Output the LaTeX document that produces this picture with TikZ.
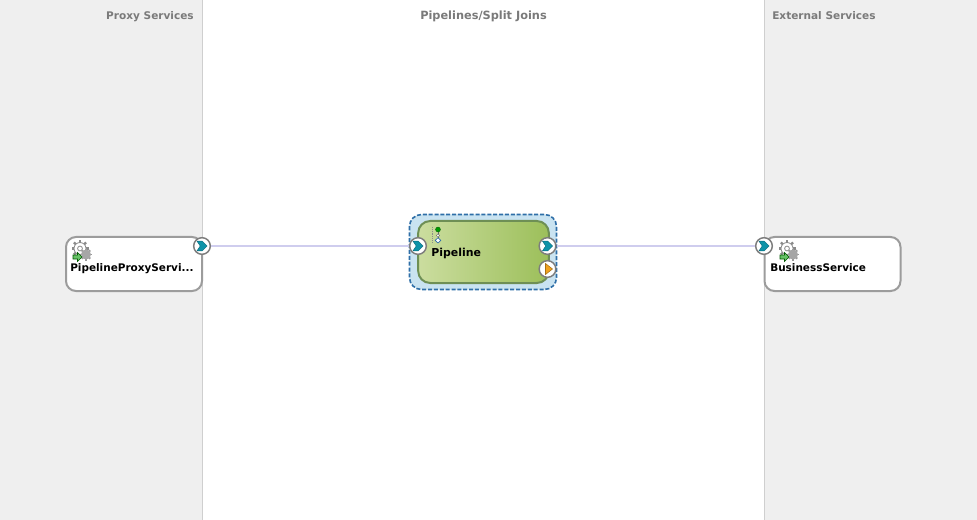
\documentclass[tikz,border=0pt]{standalone}
\usepackage{fontspec}
\setmainfont{DejaVu Sans}
\definecolor{panelgray}{HTML}{EFEFEF}
\definecolor{dividergray}{HTML}{CFCFCF}
\definecolor{titlegray}{HTML}{7A7A7A}
\definecolor{boxgray}{HTML}{9C9C9C}
\definecolor{wirelilac}{HTML}{CFCDEE}
\definecolor{portteal}{HTML}{0E93A8}
\definecolor{portdark}{HTML}{0A6A7C}
\definecolor{selblue}{HTML}{C9E3F1}
\definecolor{seldash}{HTML}{2F6FA8}
\definecolor{pipeedge}{HTML}{6E8F55}
\definecolor{pipeL}{HTML}{CBDD9F}
\definecolor{pipeR}{HTML}{9CBF5A}
\definecolor{orangeport}{HTML}{F0A11E}
\definecolor{geargray}{HTML}{8A8A8A}
\tikzset{
  x=0.75pt,y=-0.75pt,
  paneltitle/.style={font=\fontsize{7.9pt}{10pt}\selectfont\bfseries,text=titlegray,inner sep=0pt,anchor=base},
  svcbox/.style={draw=boxgray,line width=1.5pt,fill=white,rounded corners=7.5pt,minimum width=102pt,minimum height=40.5pt,inner sep=0pt},
  svclabel/.style={font=\fontsize{7.85pt}{10pt}\selectfont\bfseries,text=black,inner sep=0pt,anchor=base west},
  portc/.style={circle,draw=boxgray!80!black,line width=1.1pt,fill=white,minimum size=12.5pt,inner sep=0pt},
  wire/.style={draw=wirelilac,line width=1.4pt},
  pics/chev/.style={code={
    \fill[portteal,draw=portdark,line width=.3pt] (-5,-4.8) -- (0.3,-4.8) -- (5.2,0) -- (0.3,4.8) -- (-5,4.8) -- (-1.8,0) -- cycle;
  }},
  pics/gears/.style={code={
    \foreach \a in {0,45,...,315}{
      \draw[geargray,line width=1.7pt,rotate around={\a:(-1,-3)}] (-1,-8) -- (-1,-11.5);
    }
    \draw[geargray,fill=white,line width=.6pt] (-1,-3) circle[radius=6];
    \fill[white] (-1,-3) circle[radius=4.4];
    \draw[geargray,fill=white,line width=.6pt] (-1,-3) circle[radius=2.4];
    \foreach \a in {0,45,...,315}{
      \draw[black!40,line width=1.4pt,rotate around={\a:(5,3)}] (5,-1) -- (5,-3);
    }
    \fill[black!35] (5,3) circle[radius=5];
    \fill[green!60!black!60!white,draw=green!35!black,line width=.4pt]
      (-8,3.5) -- (-3.5,3.5) -- (-3.5,1) -- (1,5.5) -- (-3.5,10) -- (-3.5,7.5) -- (-8,7.5) -- cycle;
  }}
}
\begin{document}
\begin{tikzpicture}
\useasboundingbox (0,0) rectangle (977,520);
\fill[white] (0,0) rectangle (977,520);
\fill[panelgray] (0,0) rectangle (202,520);
\fill[panelgray] (764,0) rectangle (977,520);
\draw[dividergray,line width=.75pt] (202.5,0) -- (202.5,520);
\draw[dividergray,line width=.75pt] (764.5,0) -- (764.5,520);
\node[paneltitle,anchor=base east] (t1) at (194,20) {Proxy Services};
\node[paneltitle,font=\fontsize{8.5pt}{10pt}\selectfont\bfseries] (t2) at (483.5,20) {Pipelines/Split Joins};
\node[paneltitle,anchor=base west] (t3) at (772,20) {External Services};

% services
\node[svcbox] (proxy) at (134,264) {};
\node[svcbox] (biz) at (832.5,264) {};
\pic at (81,251.5) {gears};
\pic at (788,251.5) {gears};
\node[svclabel] (proxyt) at (70,271.5) {PipelineProxyServi...};
\node[svclabel] (bizt) at (770,271.5) {BusinessService};

% pipeline
\draw[seldash,fill=selblue,line width=1.2pt,dash pattern=on 3pt off 1.4pt,rounded corners=9pt] (409.5,214.5) rectangle (556.5,289.5);
\node[draw=pipeedge,line width=1.5pt,left color=pipeL,right color=pipeR,rounded corners=9pt,minimum width=98pt,minimum height=46.5pt,inner sep=0pt] (pipe) at (483.5,252) {};
\node[font=\fontsize{8.2pt}{10pt}\selectfont\bfseries,text=black,inner sep=0pt,anchor=base west] (pipet) at (431,257) {Pipeline};
\draw[black!45,densely dotted,line width=.4pt] (432.5,227) -- (432.5,243);
\draw[black!60,line width=.5pt] (438,230) -- (438,241);
\fill[green!60!black,draw=green!35!black,line width=.2pt] (438,229.5) circle[radius=2.5];
\draw[black!60,fill=white,line width=.3pt] (438,235.5) circle[radius=1.7];
\draw[seldash,fill=white,line width=.5pt] (438,237.8) -- (440.8,240.4) -- (438,243) -- (435.2,240.4) -- cycle;

% ports
\node[portc] (p1) at (202,246) {};
\node[portc] (p2) at (418,246) {};
\node[portc] (p3) at (547.5,246) {};
\node[portc] (p4) at (764,246) {};
\node[portc] (p5) at (547.5,269) {};
\pic at (202,246) {chev};
\pic at (418,246) {chev};
\pic at (547.5,246) {chev};
\pic at (764,246) {chev};
\fill[orangeport,draw=orangeport!70!black,line width=.4pt] (545.5,263.5) -- (552.5,269) -- (545.5,274.5) -- cycle;

% connectors
\draw[wire] (p1) -- (p2);
\draw[wire] (p3) -- (p4);
\end{tikzpicture}
\end{document}
